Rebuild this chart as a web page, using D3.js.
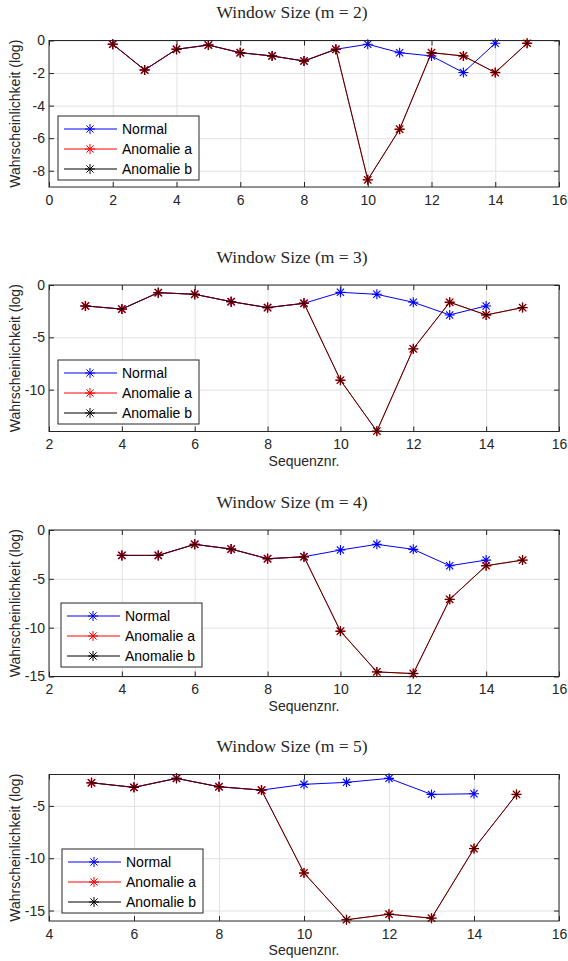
<!DOCTYPE html>
<html>
<head>
<meta charset="utf-8">
<script src="https://cdn.jsdelivr.net/npm/d3@7"></script>
<style>
  body { margin: 0; background: #fff; }
  svg { display: block; }
</style>
</head>
<body>
<script>
// ---- data: log-likelihood per sequence number, one panel per window size ----
const windowSizes = [2, 3, 4, 5];
const seriesNames = ["Normal", "Anomalie a", "Anomalie b"];

// m = 2
const seqNormal2 = [2, 3, 4, 5, 6, 7, 8, 9, 10, 11, 12, 13, 14];
const normal2 = [-0.23, -1.81, -0.54, -0.28, -0.75, -0.95, -1.26, -0.54, -0.23, -0.75, -0.95, -1.97, -0.17];
const seqAnomaly2 = [2, 3, 4, 5, 6, 7, 8, 9, 10, 11, 12, 13, 14, 15];
const anomalyA2 = [-0.23, -1.81, -0.54, -0.28, -0.75, -0.95, -1.26, -0.54, -8.56, -5.45, -0.75, -0.95, -1.97, -0.17];
const anomalyB2 = [-0.23, -1.81, -0.54, -0.28, -0.75, -0.95, -1.26, -0.54, -8.56, -5.45, -0.75, -0.95, -1.97, -0.17];

// m = 3
const seqNormal3 = [3, 4, 5, 6, 7, 8, 9, 10, 11, 12, 13, 14];
const normal3 = [-2.0, -2.3, -0.73, -0.89, -1.59, -2.16, -1.75, -0.7, -0.89, -1.65, -2.86, -2.0];
const seqAnomaly3 = [3, 4, 5, 6, 7, 8, 9, 10, 11, 12, 13, 14, 15];
const anomalyA3 = [-2.0, -2.3, -0.73, -0.89, -1.59, -2.16, -1.75, -9.1, -13.97, -6.1, -1.65, -2.86, -2.16];
const anomalyB3 = [-2.0, -2.3, -0.73, -0.89, -1.59, -2.16, -1.75, -9.1, -13.97, -6.1, -1.65, -2.86, -2.16];

// m = 4
const seqNormal4 = [4, 5, 6, 7, 8, 9, 10, 11, 12, 13, 14];
const normal4 = [-2.6, -2.6, -1.47, -1.95, -2.94, -2.74, -2.05, -1.47, -1.98, -3.66, -3.08];
const seqAnomaly4 = [4, 5, 6, 7, 8, 9, 10, 11, 12, 13, 14, 15];
const anomalyA4 = [-2.6, -2.6, -1.47, -1.95, -2.94, -2.74, -10.36, -14.53, -14.7, -7.1, -3.66, -3.08];
const anomalyB4 = [-2.6, -2.6, -1.47, -1.95, -2.94, -2.74, -10.36, -14.53, -14.7, -7.1, -3.66, -3.08];

// m = 5
const seqNormal5 = [5, 6, 7, 8, 9, 10, 11, 12, 13, 14];
const normal5 = [-2.79, -3.23, -2.37, -3.17, -3.49, -2.94, -2.75, -2.37, -3.9, -3.84];
const seqAnomaly5 = [5, 6, 7, 8, 9, 10, 11, 12, 13, 14, 15];
const anomalyA5 = [-2.79, -3.23, -2.37, -3.17, -3.49, -11.41, -15.88, -15.35, -15.73, -9.08, -3.9];
const anomalyB5 = [-2.79, -3.23, -2.37, -3.17, -3.49, -11.41, -15.88, -15.35, -15.73, -9.08, -3.9];

// axis ranges and tick labels
const xDomains = [[0, 16], [2, 16], [2, 16], [4, 16]];
const yDomains = [[-9, 0], [-14, 0], [-15, 0], [-16, -2]];
const xTickValues = [
  [0, 2, 4, 6, 8, 10, 12, 14, 16],
  [2, 4, 6, 8, 10, 12, 14, 16],
  [2, 4, 6, 8, 10, 12, 14, 16],
  [4, 6, 8, 10, 12, 14, 16]
];
const yTickValues = [
  [0, -2, -4, -6, -8],
  [0, -5, -10],
  [0, -5, -10, -15],
  [-5, -10, -15]
];
const showXLabel = [false, true, true, true];

const panels = [
  { normal: [seqNormal2, normal2], a: [seqAnomaly2, anomalyA2], b: [seqAnomaly2, anomalyB2] },
  { normal: [seqNormal3, normal3], a: [seqAnomaly3, anomalyA3], b: [seqAnomaly3, anomalyB3] },
  { normal: [seqNormal4, normal4], a: [seqAnomaly4, anomalyA4], b: [seqAnomaly4, anomalyB4] },
  { normal: [seqNormal5, normal5], a: [seqAnomaly5, anomalyA5], b: [seqAnomaly5, anomalyB5] }
];

// ---- layout ----
const W = 568, Hpage = 961;
const plotLeft = 49, plotRight = 559;
const plotTops = [40.5, 285, 530, 774.5];
const plotH = 146.5;
const legendPos = [[58, 116], [58, 360], [61, 603], [62, 849]];
const sans = "'Liberation Sans', Arial, Helvetica, sans-serif";
const serif = "'Liberation Serif', 'Times New Roman', serif";
const axisColor = "#262626";
const gridColor = "#e2e2e2";
const colors = { normal: "#0000ff", a: "#ff0000", b: "#000000" };

const svg = d3.select("body").append("svg")
  .attr("width", W).attr("height", Hpage);

// MATLAB-style asterisk marker ("+" over "x")
function asterisk(r) {
  const d = r * 0.72;
  return `M${-r},0H${r}M0,${-r}V${r}M${-d},${-d}L${d},${d}M${-d},${d}L${d},${-d}`;
}

panels.forEach((p, i) => {
  const top = plotTops[i];
  const x = d3.scaleLinear().domain(xDomains[i]).range([plotLeft, plotRight]);
  const y = d3.scaleLinear().domain(yDomains[i]).range([top + plotH, top]);
  const g = svg.append("g");

  // grid
  g.append("g")
    .attr("transform", `translate(0,${top + plotH})`)
    .call(d3.axisBottom(x).tickValues(xTickValues[i]).tickSize(-plotH).tickFormat(""))
    .call(s => s.select(".domain").remove())
    .call(s => s.selectAll("line").attr("stroke", gridColor));
  g.append("g")
    .attr("transform", `translate(${plotLeft},0)`)
    .call(d3.axisLeft(y).tickValues(yTickValues[i]).tickSize(-(plotRight - plotLeft)).tickFormat(""))
    .call(s => s.select(".domain").remove())
    .call(s => s.selectAll("line").attr("stroke", gridColor));

  // series lines
  const line = d3.line().x(d => x(d[0])).y(d => y(d[1]));
  const pts = key => d3.zip(p[key][0], p[key][1]);
  const drawSeries = (key, opacity, markerWidth) => {
    g.append("path")
      .datum(pts(key))
      .attr("d", line)
      .attr("fill", "none")
      .attr("stroke", colors[key])
      .attr("stroke-opacity", opacity)
      .attr("stroke-width", 1);
    g.selectAll(null).data(pts(key)).join("path")
      .attr("transform", d => `translate(${x(d[0])},${y(d[1])})`)
      .attr("d", asterisk(5))
      .attr("fill", "none")
      .attr("stroke", colors[key])
      .attr("stroke-opacity", opacity)
      .attr("stroke-width", markerWidth);
  };
  drawSeries("normal", 1, 1.1);
  drawSeries("a", 1, 1.4);
  drawSeries("b", 0.72, 1);

  // axes with inward ticks on all four sides
  const styleAxis = s => {
    s.select(".domain").remove();
    s.selectAll("line").attr("stroke", axisColor);
    s.selectAll("text").attr("fill", axisColor)
      .style("font-family", sans).style("font-size", "14px");
  };
  const fmt = d => String(d);
  g.append("g")
    .attr("transform", `translate(0,${top + plotH})`)
    .call(d3.axisBottom(x).tickValues(xTickValues[i]).tickSize(-5).tickPadding(8).tickFormat(fmt))
    .call(styleAxis);
  g.append("g")
    .attr("transform", `translate(0,${top})`)
    .call(d3.axisTop(x).tickValues(xTickValues[i]).tickSize(-5).tickFormat(""))
    .call(styleAxis);
  g.append("g")
    .attr("transform", `translate(${plotLeft},0)`)
    .call(d3.axisLeft(y).tickValues(yTickValues[i]).tickSize(-5).tickPadding(4).tickFormat(fmt))
    .call(styleAxis);
  g.append("g")
    .attr("transform", `translate(${plotRight},0)`)
    .call(d3.axisRight(y).tickValues(yTickValues[i]).tickSize(-5).tickFormat(""))
    .call(styleAxis);

  // box
  g.append("rect")
    .attr("x", plotLeft).attr("y", top)
    .attr("width", plotRight - plotLeft).attr("height", plotH)
    .attr("fill", "none").attr("stroke", axisColor).attr("stroke-width", 1);

  // title
  g.append("text")
    .attr("x", 292).attr("y", top - 22.5)
    .attr("text-anchor", "middle")
    .style("font-family", serif).style("font-size", "17.5px")
    .attr("fill", axisColor)
    .text(`Window Size (m = ${windowSizes[i]})`);

  // y label
  g.append("text")
    .attr("transform", `translate(20,${top + plotH / 2}) rotate(-90)`)
    .attr("text-anchor", "middle")
    .style("font-family", sans).style("font-size", "14px")
    .attr("fill", axisColor)
    .text("Wahrscheinlichkeit (log)");

  // x label
  if (showXLabel[i]) {
    g.append("text")
      .attr("x", (plotLeft + plotRight) / 2).attr("y", top + plotH + 34)
      .attr("text-anchor", "middle")
      .style("font-family", sans).style("font-size", "14px")
      .attr("fill", axisColor)
      .text("Sequenznr.");
  }

  // legend
  const [lx, ly] = legendPos[i];
  const lg = g.append("g").attr("transform", `translate(${lx},${ly})`);
  lg.append("rect").attr("width", 141).attr("height", 64)
    .attr("fill", "#fff").attr("stroke", axisColor).attr("stroke-width", 1);
  ["normal", "a", "b"].forEach((key, k) => {
    const ry = 13 + k * 20;
    lg.append("line").attr("x1", 6).attr("x2", 59).attr("y1", ry).attr("y2", ry)
      .attr("stroke", colors[key]).attr("stroke-width", 1);
    lg.append("path").attr("transform", `translate(32,${ry})`)
      .attr("d", asterisk(5)).attr("fill", "none")
      .attr("stroke", colors[key]).attr("stroke-width", 1);
    lg.append("text").attr("x", 64).attr("y", ry).attr("dy", "0.35em")
      .style("font-family", sans).style("font-size", "14px")
      .attr("fill", "#000")
      .text(seriesNames[k]);
  });
});
</script>
</body>
</html>
